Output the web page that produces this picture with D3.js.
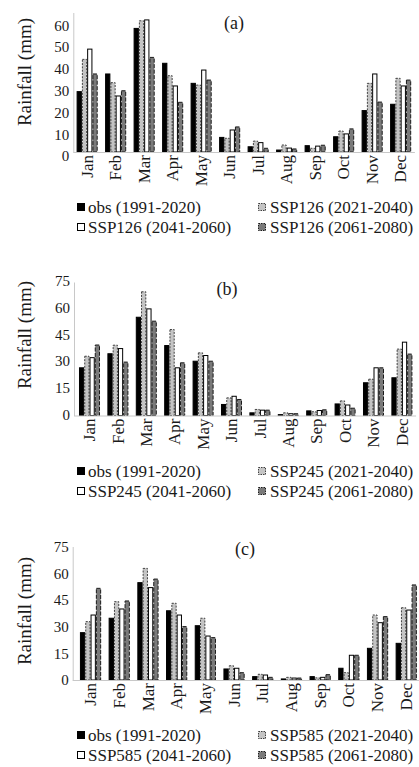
<!DOCTYPE html>
<html>
<head>
<meta charset="utf-8">
<script src="https://cdn.jsdelivr.net/npm/d3@7"></script>
<style>
  body { margin: 0; background: #fff; }
  svg { display: block; }
  text { font-family: "Liberation Serif", serif; }
</style>
</head>
<body>
<div id="chart"></div>
<script>
const months = ['Jan', 'Feb', 'Mar', 'Apr', 'May', 'Jun', 'Jul', 'Aug', 'Sep', 'Oct', 'Nov', 'Dec'];

// (a) SSP126
const obsA      = [27.7, 35.8, 56.7, 40.7, 31.5, 6.7, 2.4, 0.9, 2.9, 7.0, 19.0, 21.9];
const ssp126Near = [42.5, 31.8, 60.2, 35.0, 30.7, 6.3, 5.0, 3.2, 1.7, 9.6, 31.5, 33.8];
const ssp126Mid  = [47.2, 25.7, 60.6, 30.3, 37.6, 10.1, 4.3, 1.8, 2.7, 8.3, 35.8, 30.3];
const ssp126Far  = [35.8, 28.1, 43.4, 22.8, 33.0, 11.5, 1.7, 1.4, 3.1, 10.6, 22.9, 33.0];

// (b) SSP245
const obsB      = [26.8, 34.7, 55.2, 39.3, 30.5, 6.2, 1.5, 0.5, 2.6, 6.5, 18.4, 21.2];
const ssp245Near = [33.3, 39.5, 69.5, 48.3, 35.2, 9.9, 3.4, 1.5, 2.1, 8.2, 20.4, 37.3];
const ssp245Mid  = [32.5, 37.6, 59.9, 26.8, 33.7, 10.8, 3.0, 1.0, 2.8, 5.9, 26.8, 41.2];
const ssp245Far  = [39.6, 30.0, 53.0, 29.6, 30.5, 9.0, 3.0, 1.0, 3.2, 4.1, 26.8, 34.5];

// (c) SSP585
const obsC      = [26.6, 34.7, 54.7, 38.9, 30.5, 6.2, 1.9, 0.6, 1.9, 6.6, 17.8, 20.6];
const ssp585Near = [32.8, 44.0, 62.7, 43.1, 34.7, 8.0, 3.2, 1.5, 1.2, 4.1, 36.5, 40.6];
const ssp585Mid  = [36.5, 39.9, 51.9, 36.5, 24.7, 6.6, 2.8, 1.1, 1.5, 13.9, 32.2, 39.3];
const ssp585Far  = [51.5, 44.4, 56.7, 30.0, 23.8, 4.1, 1.5, 1.1, 3.0, 13.9, 35.6, 53.4];

const ticksA = [0, 10, 20, 30, 40, 50, 60];
const ticksBC = [0, 15, 30, 45, 60, 75];

const legendA = ['obs (1991-2020)', 'SSP126 (2021-2040)', 'SSP126 (2041-2060)', 'SSP126 (2061-2080)'];
const legendB = ['obs (1991-2020)', 'SSP245 (2021-2040)', 'SSP245 (2041-2060)', 'SSP245 (2061-2080)'];
const legendC = ['obs (1991-2020)', 'SSP585 (2021-2040)', 'SSP585 (2041-2060)', 'SSP585 (2061-2080)'];

const width = 419, height = 767;
const serif = '"Liberation Serif", "DejaVu Serif", serif';

// one style per series position
const styles = [
  { fill: '#000', stroke: '#000', dash: null },
  { fill: '#c4c4c4', stroke: '#404040', dash: '2,1.3' },
  { fill: '#fff', stroke: '#000', dash: null },
  { fill: '#7a7a7a', stroke: '#1a1a1a', dash: '4,1.5' }
];

const panels = [
  { title: '(a)', series: [obsA, ssp126Near, ssp126Mid, ssp126Far], legend: legendA, ticks: ticksA,
    yMax: 64, base: 152, top: 12.5, axisX: 73.3, xr: [72.9, 414.9], labelShift: 4,
    titleX: 234, titleY: 29, yTitleY: 72, legY: 207 },
  { title: '(b)', series: [obsB, ssp245Near, ssp245Mid, ssp245Far], legend: legendB, ticks: ticksBC,
    yMax: 75, base: 415.5, top: 282, axisX: 74, xr: [75.3, 416.1], labelShift: -1,
    titleX: 227, titleY: 295, yTitleY: 335, legY: 471 },
  { title: '(c)', series: [obsC, ssp585Near, ssp585Mid, ssp585Far], legend: legendC, ticks: ticksBC,
    yMax: 75, base: 680, top: 546.5, axisX: 72.7, xr: [76.2, 420.6], labelShift: 0,
    titleX: 245, titleY: 555, yTitleY: 611, legY: 735 }
];

const svg = d3.select('#chart').append('svg')
    .attr('width', width)
    .attr('height', height)
    .attr('font-family', serif);

panels.forEach((p) => {
  const g = svg.append('g');

  let x0 = d3.scaleBand()
      .domain(months)
      .range(p.xr)
      .paddingInner(0.26)
      .paddingOuter(0.13);

  let x1 = d3.scaleBand()
      .domain(d3.range(p.series.length))
      .range([0, x0.bandwidth()]);

  let y = d3.scaleLinear()
      .domain([0, p.yMax])
      .range([p.base, p.top]);

  // Y axis (line + labels, no tick marks).
  let yAxis = d3.axisLeft(y)
      .tickValues(p.ticks)
      .tickSize(0)
      .tickSizeOuter(0)
      .tickPadding(4);

  let ya = g.append('g')
      .attr('transform', 'translate(' + p.axisX + ',0)')
      .call(yAxis)
      .attr('font-family', serif)
      .attr('font-size', 15);
  ya.select('.domain').attr('stroke', '#c8c8c8');
  ya.selectAll('text')
      .attr('dy', '0.32em')
      .attr('y', p.labelShift)
      .attr('fill', '#1a1a1a');

  // Bars.
  let groups = g.selectAll('.month')
      .data(months)
      .enter()
      .append('g')
      .attr('transform', (d) => 'translate(' + x0(d) + ',0)');

  groups.selectAll('rect')
      .data((d, i) => p.series.map((s, k) => ({ k: k, v: s[i] })))
      .enter()
      .append('rect')
      .attr('x', (d) => x1(d.k) + 0.5)
      .attr('y', (d) => y(d.v))
      .attr('width', x1.bandwidth() - 1)
      .attr('height', (d) => y(0) - y(d.v))
      .attr('fill', (d) => styles[d.k].fill)
      .attr('stroke', (d) => styles[d.k].stroke)
      .attr('stroke-width', 1)
      .attr('stroke-dasharray', (d) => styles[d.k].dash);

  // X axis.
  g.append('line')
      .attr('x1', p.axisX)
      .attr('x2', p.xr[1])
      .attr('y1', p.base + 0.5)
      .attr('y2', p.base + 0.5)
      .attr('stroke', '#c8c8c8');

  let xAxis = d3.axisBottom(x0)
      .tickSize(0)
      .tickSizeOuter(0);

  let xa = g.append('g')
      .attr('transform', 'translate(0,' + p.base + ')')
      .call(xAxis)
      .attr('font-family', serif)
      .attr('font-size', 17);
  xa.select('.domain').remove();
  xa.selectAll('text')
      .attr('y', 0)
      .attr('x', -3)
      .attr('dy', '0.33em')
      .attr('transform', 'rotate(-90)')
      .style('text-anchor', 'end')
      .attr('fill', '#1a1a1a');

  // Panel title.
  g.append('text')
      .attr('x', p.titleX)
      .attr('y', p.titleY)
      .attr('text-anchor', 'middle')
      .attr('font-family', serif)
      .attr('font-size', 18)
      .attr('fill', '#1a1a1a')
      .text(p.title);

  // Y axis title.
  g.append('text')
      .attr('transform', 'translate(31,' + p.yTitleY + ') rotate(-90)')
      .attr('text-anchor', 'middle')
      .attr('font-family', serif)
      .attr('font-size', 19)
      .attr('fill', '#1a1a1a')
      .text('Rainfall (mm)');

  // Legend, two columns.
  let leg = g.selectAll('.leg')
      .data(p.legend)
      .enter()
      .append('g')
      .attr('transform', (d, i) => 'translate(' + (i % 2 ? 258 : 77) + ',' + (p.legY + Math.floor(i / 2) * 20) + ')');

  leg.append('rect')
      .attr('x', 0.5)
      .attr('y', -3.5)
      .attr('width', 7)
      .attr('height', 7)
      .attr('fill', (d, i) => styles[i].fill)
      .attr('stroke', (d, i) => styles[i].stroke)
      .attr('stroke-dasharray', (d, i) => styles[i].dash ? '1.5,1' : null);

  leg.append('text')
      .attr('x', (d, i) => i % 2 ? 12 : 11)
      .attr('dy', '0.33em')
      .attr('font-family', serif)
      .attr('font-size', 17)
      .attr('fill', '#1a1a1a')
      .text((d) => d);
});
</script>
</body>
</html>
